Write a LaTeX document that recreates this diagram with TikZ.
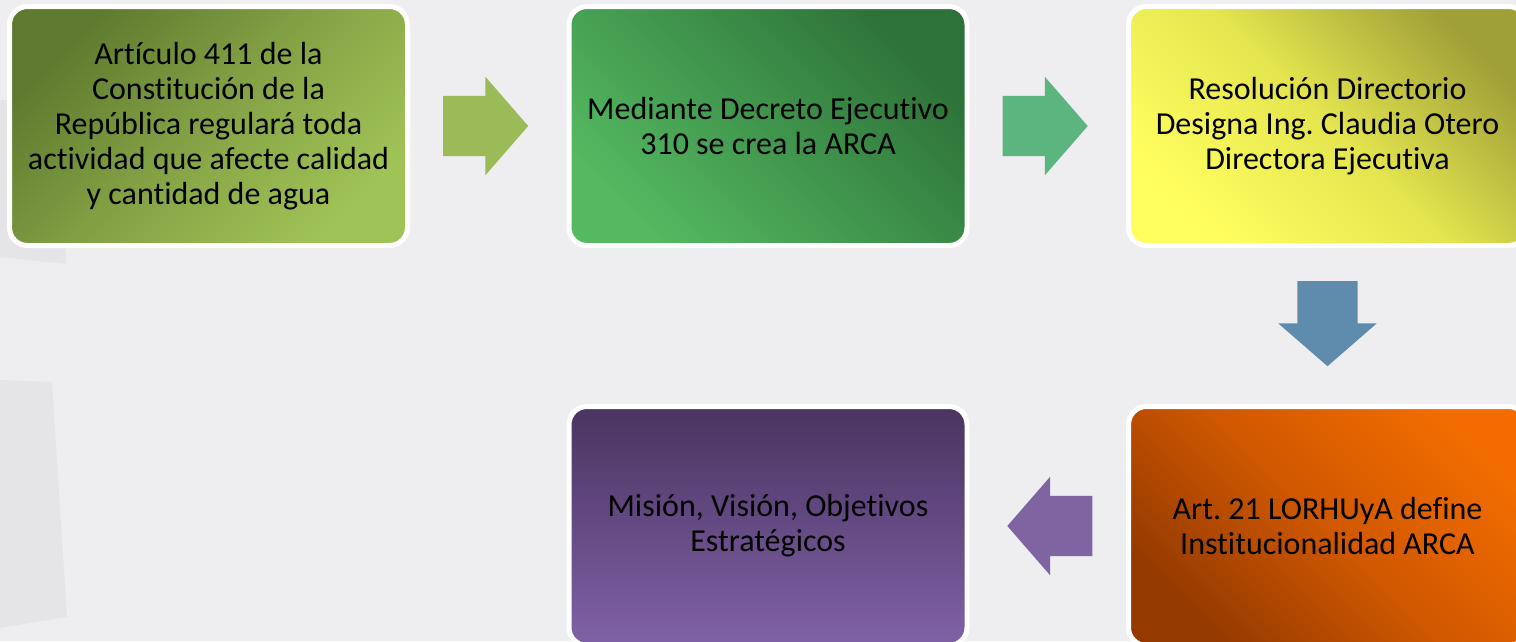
\documentclass[tikz,border=0pt]{standalone}
\usepackage{fontspec}
\setmainfont{Carlito}[Ligatures=NoCommon]
\usepackage{tikz}
\usetikzlibrary{positioning}
\usetikzlibrary{shapes.arrows}
\frenchspacing

\definecolor{bgGrey}{HTML}{EEEEF0}
\definecolor{bgShape}{HTML}{E5E5E7}
\definecolor{oliveDark}{HTML}{5E7A2F}
\definecolor{oliveMid}{HTML}{85A345}
\definecolor{oliveLight}{HTML}{A0C357}
\definecolor{greenDark}{HTML}{2D7238}
\definecolor{greenLight}{HTML}{54B961}
\definecolor{yellowDark}{HTML}{A0A038}
\definecolor{yellowMid}{HTML}{E5E64F}
\definecolor{yellowLight}{HTML}{FFFF60}
\definecolor{orangeLight}{HTML}{F26C00}
\definecolor{orangeMid}{HTML}{D05800}
\definecolor{orangeDark}{HTML}{943A00}
\definecolor{purpleDark}{HTML}{4A3460}
\definecolor{purpleLight}{HTML}{8061A7}
\definecolor{arrowOlive}{HTML}{9BBB59}
\definecolor{arrowGreen}{HTML}{5CB47F}
\definecolor{arrowBlue}{HTML}{5F8CAD}
\definecolor{arrowPurple}{HTML}{8064A2}

\tikzstyle{stepbox} = [rectangle, rounded corners=18pt, minimum width=398pt, minimum height=239pt, align=center, draw=white, line width=5pt, text=black, font=\fontsize{32}{35}\selectfont]
\tikzstyle{blockarrow} = [single arrow, draw=none, inner xsep=0pt, inner ysep=30pt, text height=0pt, text depth=0pt, minimum height=85pt, minimum width=98pt, single arrow head extend=19pt, single arrow tip angle=98]

\begin{document}
\begin{tikzpicture}[node distance=559.5pt]

	\useasboundingbox (0,0) rectangle (1516pt,-641pt);
	\clip (0,0) rectangle (1516pt,-641pt);
	\fill [bgGrey] (0,0) rectangle (1516pt,-641pt);


% Faint shapes behind

	\fill [bgShape] (0,-100pt) -- (60pt,-100pt) -- (66pt,-264pt) -- (0,-257pt) -- cycle;
	\fill [bgShape] (0,-380pt) -- (52pt,-382pt) -- (67pt,-617pt) -- (0,-628pt) -- cycle;


% Top row

	\node (articulo) [stepbox, top color=oliveDark, bottom color=oliveLight, middle color=oliveMid, shading angle=45] at (208.5pt,-126pt) {Artículo 411 de la\\ Constitución de la\\ República regulará toda\\ actividad que afecte calidad\\ y cantidad de agua};

	\node (decreto) [stepbox, top color=greenDark, bottom color=greenLight, shading angle=-45, right of=articulo] {Mediante Decreto Ejecutivo\\ 310 se crea la ARCA};

	\node (resolucion) [stepbox, top color=yellowDark, bottom color=yellowLight, middle color=yellowMid, shading angle=-45, right of=decreto] {Resolución Directorio\\ Designa Ing. Claudia Otero\\ Directora Ejecutiva};


% Bottom row

	\node (lorhuya) [stepbox, top color=orangeLight, bottom color=orangeDark, middle color=orangeMid, shading angle=-45, below of=resolucion, node distance=400pt] {Art. 21 LORHUyA define\\ Institucionalidad ARCA};

	\node (mision) [stepbox, top color=purpleDark, bottom color=purpleLight, left of=lorhuya] {Misión, Visión, Objetivos\\ Estratégicos};


% Block arrows (placed by their tail)

	\node (articuloDecreto) [blockarrow, fill=arrowOlive, right of=articulo, node distance=234.5pt, anchor=tail] {};
	\node (decretoResolucion) [blockarrow, fill=arrowGreen, right of=decreto, node distance=234.5pt, anchor=tail] {};
	\node (resolucionLorhuya) [blockarrow, fill=arrowBlue, below of=resolucion, node distance=155pt, anchor=tail, rotate=-90] {};
	\node (lorhuyaMision) [blockarrow, fill=arrowPurple, left of=lorhuya, node distance=235pt, anchor=tail, rotate=180] {};

\end{tikzpicture}
\end{document}
